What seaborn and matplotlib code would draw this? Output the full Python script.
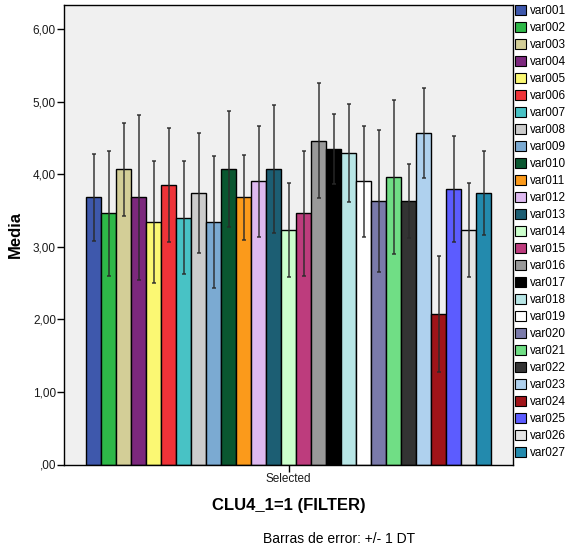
import numpy as np
import pandas as pd
import matplotlib
matplotlib.use('Agg')
import matplotlib.pyplot as plt
import seaborn as sns
from matplotlib.patches import Patch
from matplotlib.ticker import FuncFormatter

# Values (mean and +/- 1 SD)
variables = ['var%03d' % i for i in range(1, 28)]
means = [3.68, 3.46, 4.07, 3.68, 3.34, 3.85, 3.40, 3.74, 3.34, 4.07,
         3.68, 3.90, 4.07, 3.23, 3.46, 4.46, 4.35, 4.29, 3.90, 3.63,
         3.96, 3.63, 4.57, 2.07, 3.79, 3.23, 3.74]
sds = [0.60, 0.86, 0.64, 1.14, 0.84, 0.79, 0.78, 0.83, 0.91, 0.80,
       0.59, 0.76, 0.88, 0.65, 0.86, 0.79, 0.48, 0.67, 0.76, 0.98,
       1.06, 0.51, 0.62, 0.80, 0.73, 0.65, 0.58]
colors = ['#3E58AC', '#2EB848', '#D3CE97', '#7C287D', '#FBF873', '#EF3338',
          '#48C2C5', '#CCCCCC', '#7BAAD2', '#0A5730', '#FB9A1B', '#DEB9F0',
          '#1C5E73', '#CCFFCC', '#BD3C7D', '#999999', '#000000', '#B8E6E6',
          '#FFFFFF', '#7A7AAA', '#70DE85', '#333333', '#AFD1EE', '#A01419',
          '#5C5CFF', '#E5E5E5', '#238AAD']
group_label = 'Selected'

plt.rcParams['font.family'] = ['Liberation Sans', 'DejaVu Sans']

df = pd.DataFrame({'grupo': [group_label] * len(variables),
                   'var': variables, 'media': means, 'sd': sds})
palette = dict(zip(variables, colors))

fig = plt.figure(figsize=(5.7, 5.51), dpi=100)
ax = fig.add_axes([64.3 / 570, 1 - 464.5 / 551, (513 - 64.3) / 570, (464.5 - 5) / 551])
ax.set_facecolor('#F0F0F0')

sns.barplot(data=df, x='grupo', y='media', hue='var', hue_order=variables,
            palette=palette, width=0.8, gap=0, errorbar=None, legend=False,
            edgecolor='black', linewidth=1, saturation=1, ax=ax)

# error bars at the bar centres
for cont, m, s in zip(ax.containers, means, sds):
    bar = cont.patches[0]
    xc = bar.get_x() + bar.get_width() / 2
    ax.errorbar(xc, m, yerr=s, fmt='none', ecolor='#2a2a2a', alpha=0.85,
                elinewidth=1.2, capsize=1.6, capthick=1.2, zorder=5)

ax.set_xlim(-0.443, 0.443)
ax.set_ylim(0, 6.33)
ax.set_yticks(range(7))
ax.yaxis.set_major_formatter(FuncFormatter(
    lambda v, p: (',00' if v == 0 else ('%.2f' % v).replace('.', ','))))
ax.tick_params(axis='both', direction='out', length=5, width=1, color='black',
               labelsize=8.5, labelcolor='#1a1a1a', pad=1)
for sp in ax.spines.values():
    sp.set_color('black')
    sp.set_linewidth(1)
ax.set_xlabel('')
ax.set_ylabel('')

fig.text(15 / 570, 1 - 234.7 / 551, 'Media', rotation=90, fontsize=12,
         fontweight='bold', ha='center', va='center')
fig.text(289 / 570, 1 - 505.5 / 551, 'CLU4_1=1 (FILTER)', fontsize=12,
         fontweight='bold', ha='center', va='center')
fig.text(339 / 570, 1 - 539 / 551, 'Barras de error: +/- 1 DT', fontsize=10,
         ha='center', va='center')

handles = [Patch(facecolor=c, edgecolor='black', linewidth=0.8) for c in colors]
fig.legend(handles, variables, loc='upper left',
           bbox_to_anchor=(515 / 570, 1 - 5 / 551), frameon=False,
           fontsize=8.5, handlelength=0.95, handleheight=0.95,
           handletextpad=0.35, labelspacing=0.41, borderpad=0, borderaxespad=0)

fig.savefig('out.png', dpi=100)
